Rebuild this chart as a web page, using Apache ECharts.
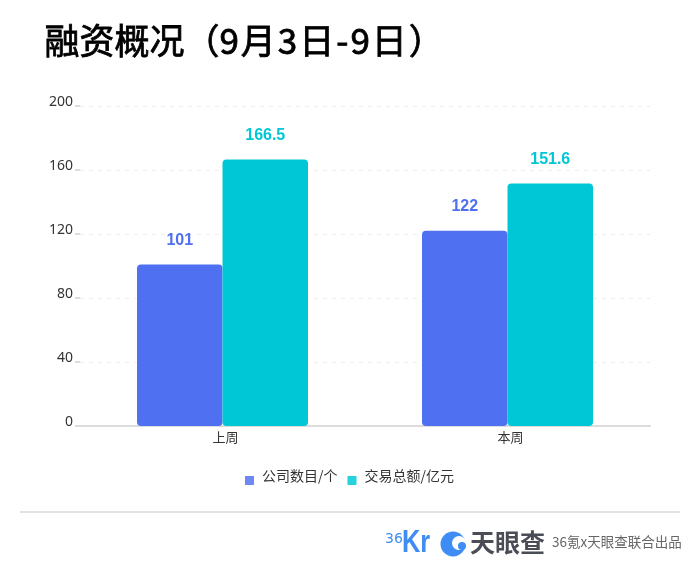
<!DOCTYPE html>
<html>
<head>
<meta charset="utf-8">
<title>融资概况</title>
<style>
html, body { margin: 0; padding: 0; background: #fff; }
#chart { width: 700px; height: 576px; }
</style>
<script src="https://cdn.jsdelivr.net/npm/echarts@6/dist/echarts.min.js"></script>
</head>
<body>
<div id="chart"></div>
<script>
// 数据
const titleHead = '融资概况（';
const titleRange = ['9', '月', '3', '日', '-', '9', '日'];
const titleTail = '）';
const footerText = '36氪x天眼查联合出品';
const categories = ['上周', '本周'];
const companyName = '公司数目/个';
const amountName = '交易总额/亿元';
const companyCounts = [101, 122];
const dealAmounts = [166.5, 151.6];
const axisMax = 200;
const axisStep = 40;

const cjkFont = '"Noto Sans CJK SC", "Noto Sans", sans-serif';
const blue = '#4f70f0';
const cyan = '#00c7d6';
const logoBlue = '#3f8cf5';

const chart = echarts.init(document.getElementById('chart'));

const barSeries = (name, data, color) => ({
    name: name,
    type: 'bar',
    data: data,
    barWidth: '30%',
    barGap: 0,
    itemStyle: { color: color, borderRadius: 4 },
    label: {
        show: true,
        position: 'top',
        distance: 16,
        color: color,
        fontFamily: '"Liberation Sans", Arial, sans-serif',
        fontWeight: 'bold',
        fontSize: 16
    }
});

// 标题里日期部分字距较宽，用 rich 加间距
const titleRich = '{t|' + titleHead + '}' + titleRange.map(s => '{s|' + s + '}').join('') + '{t|' + titleTail + '}';
const titleStyle = { font: '35px ' + cjkFont, fill: '#000', stroke: '#000', lineWidth: 0.8 };

chart.setOption({
    animation: false,
    backgroundColor: '#fff',
    grid: { left: 80, right: 50, top: 106, bottom: 150 },
    legend: {
        left: 240,
        top: 463.5,
        itemWidth: 9,
        itemHeight: 9,
        itemGap: 10,
        icon: 'rect',
        data: [
            { name: companyName, itemStyle: { color: '#6e89f3' } },
            { name: amountName, itemStyle: { color: '#26d2de' } }
        ],
        // 图例文字比色块略高
        formatter: name => '{a|' + name + '}',
        textStyle: {
            rich: { a: { fontFamily: cjkFont, fontSize: 14, color: '#333', padding: [0, 0, 10, 3] } }
        }
    },
    xAxis: {
        type: 'category',
        data: categories,
        axisLine: { lineStyle: { color: '#dcdcdc', width: 2 } },
        axisTick: { alignWithLabel: true, length: 3, lineStyle: { color: '#ccc' } },
        axisLabel: { fontFamily: cjkFont, fontSize: 13, color: '#333', margin: 5, padding: [0, 0, 0, 6] }
    },
    yAxis: {
        type: 'value',
        min: 0,
        max: axisMax,
        interval: axisStep,
        axisLine: { show: true, lineStyle: { color: 'rgba(0,0,0,0)' } },
        axisTick: { show: true, length: 5, lineStyle: { color: '#dcdcdc', width: 2 } },
        axisLabel: { fontFamily: '"Noto Sans", sans-serif', fontSize: 14, color: '#333', margin: 7, verticalAlign: 'bottom', lineHeight: 7 },
        splitLine: { lineStyle: { color: '#eeeeee', type: [4, 5] } }
    },
    series: [
        barSeries(companyName, companyCounts, blue),
        barSeries(amountName, dealAmounts, cyan)
    ],
    graphic: [
        {
            type: 'text', left: 44, top: 23,
            style: {
                text: titleRich,
                rich: {
                    t: titleStyle,
                    s: Object.assign({}, titleStyle, { padding: [0, 2, 0, 0] })
                }
            }
        },
        { type: 'rect', shape: { x: 20, y: 511, width: 660, height: 2 }, style: { fill: '#e2e2e2' } },
        // 36Kr
        { type: 'text', x: 385, y: 532, style: { text: '36', font: '14px "DejaVu Sans", sans-serif', fill: logoBlue } },
        { type: 'text', x: 402, y: 528, scaleX: 0.82, style: { text: 'Kr', font: 'bold 31px "Liberation Sans", sans-serif', fill: logoBlue } },
        // 天眼查
        { type: 'circle', shape: { cx: 453, cy: 544, r: 12.5 }, style: { fill: logoBlue } },
        { type: 'circle', shape: { cx: 459, cy: 543, r: 7 }, style: { fill: '#fff' } },
        { type: 'circle', shape: { cx: 462, cy: 546, r: 4 }, style: { fill: logoBlue } },
        { type: 'text', x: 470, y: 530, style: { text: '天眼查', font: 'bold 25px ' + cjkFont, fill: '#4a4d55' } },
        { type: 'text', x: 552, y: 535, style: { text: footerText, font: '13.5px ' + cjkFont, fill: '#666' } }
    ]
});
</script>
</body>
</html>
